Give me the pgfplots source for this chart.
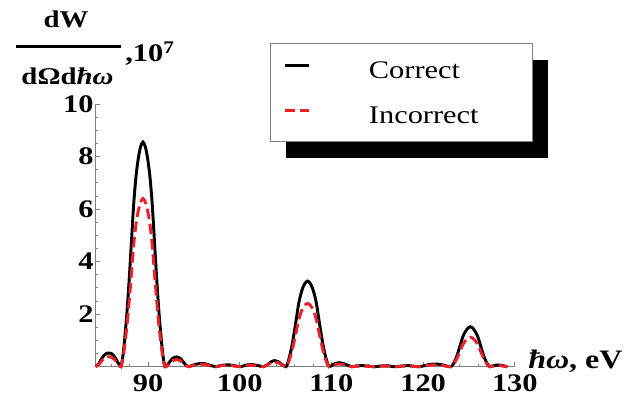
\documentclass[border=0pt]{standalone}
\usepackage{fontspec}
\setmainfont{Liberation Serif}[FakeStretch=1.2]
\usepackage{pgfplots}
\usepackage{pgfplotstable}
\pgfplotsset{compat=1.18}
\pgfdeclarelayer{background}
\pgfsetlayers{background,main}
\definecolor{curvered}{RGB}{236,32,40}
\definecolor{axgray}{RGB}{128,128,128}

\pgfplotstableread{
x c i
84.3 0 0
84.6 0.10 0.07
84.9 0.28 0.20
85.2 0.43 0.31
85.5 0.51 0.37
85.75 0.52 0.38
86.0 0.50 0.36
86.3 0.40 0.29
86.6 0.23 0.17
86.85 0.08 0.06
87.05 0 0
87.25 0.38 0.29
87.45 1.03 0.77
87.7 2.05 1.54
87.95 3.33 2.50
88.2 4.79 3.58
88.45 6.24 4.67
88.7 7.27 5.44
88.95 7.95 5.95
89.2 8.38 6.27
89.45 8.55 6.40
89.7 8.38 6.27
89.95 7.95 5.95
90.2 7.27 5.44
90.45 6.24 4.67
90.7 4.79 3.58
90.95 3.33 2.50
91.2 2.05 1.54
91.45 1.03 0.77
91.65 0.38 0.29
91.85 0 0
92.1 0.06 0.04
92.4 0.20 0.14
92.7 0.32 0.23
93.1 0.37 0.27
93.5 0.32 0.23
93.8 0.20 0.14
94.1 0.07 0.05
94.45 0 0
94.9 0.06 0.04
95.5 0.11 0.08
96.1 0.12 0.09
96.7 0.06 0.04
97.4 0 0
98.0 0.05 0.04
98.8 0.07 0.05
99.5 0.03 0.02
100.1 0 0
100.7 0.06 0.05
101.4 0.08 0.06
102.0 0.04 0.03
102.6 0 0
103.0 0.07 0.06
103.4 0.18 0.14
103.8 0.23 0.18
104.2 0.19 0.15
104.6 0.09 0.07
105.05 0 0
105.25 0.15 0.11
105.44 0.39 0.29
105.69 0.78 0.58
105.93 1.27 0.94
106.18 1.83 1.35
106.42 2.38 1.76
106.67 2.77 2.05
106.91 3.03 2.24
107.16 3.19 2.36
107.4 3.26 2.41
107.65 3.19 2.36
107.89 3.03 2.24
108.13 2.77 2.05
108.38 2.38 1.76
108.62 1.83 1.35
108.87 1.27 0.94
109.11 0.78 0.58
109.36 0.39 0.29
109.55 0.15 0.11
109.75 0 0
110.1 0.06 0.04
110.5 0.13 0.09
110.9 0.15 0.10
111.3 0.12 0.08
111.8 0.05 0.03
112.2 0 0
112.8 0.03 0.02
113.5 0.04 0.03
114.2 0.01 0.01
114.8 0 0
115.5 0.03 0.02
116.2 0.03 0.02
116.9 0 0
117.6 0.02 0.02
118.4 0.04 0.03
119.1 0.01 0.01
119.6 0 0
120.2 0.04 0.03
120.8 0.09 0.06
121.5 0.10 0.07
122.1 0.07 0.05
122.6 0.02 0.01
123.05 0 0
123.23 0.07 0.05
123.41 0.18 0.13
123.63 0.36 0.27
123.85 0.59 0.44
124.08 0.85 0.63
124.3 1.11 0.82
124.53 1.29 0.95
124.75 1.41 1.04
124.95 1.49 1.10
125.15 1.52 1.12
125.35 1.49 1.10
125.55 1.41 1.04
125.77 1.29 0.95
126.0 1.11 0.82
126.22 0.85 0.63
126.45 0.59 0.44
126.67 0.36 0.27
126.89 0.18 0.13
127.07 0.07 0.05
127.25 0 0
127.6 0.03 0.02
128.0 0.06 0.04
128.4 0.06 0.04
128.8 0.03 0.02
129.2 0 0
}\spectrum

\begin{document}
\begin{tikzpicture}
\useasboundingbox (0,0) rectangle (477pt,303pt);
\begin{axis}[
  at={(71.8pt,28pt)}, anchor=south west,
  scale only axis, width=314.3pt, height=197pt,
  xmin=84.3, xmax=130, ymin=0, ymax=10,
  axis lines=left, axis line style={-, axgray, line width=0.75pt},
  xtick={90,100,110,120,130}, ytick={2,4,6,8,10},
  minor xtick={86,88,92,94,96,98,102,104,106,108,112,114,116,118,122,124,126,128},
  minor ytick={0.5,1,1.5,2.5,3,3.5,4.5,5,5.5,6.5,7,7.5,8.5,9,9.5},
  tick align=inside, major tick length=3.5pt, minor tick length=1.8pt,
  tick style={axgray, line width=0.6pt},
  tick label style={font=\bfseries\fontsize{19}{19}\selectfont},
  /pgf/number format/assume math mode=true,
  yticklabel style={inner xsep=1.5pt},
  xticklabel style={yshift=-2.3pt},
  clip=false,
  legend cell align=left,
  legend image code/.code={\draw[#1] (0pt,3pt) -- (18pt,3pt);},
  legend style={
    name=legbox,
    at={(0.416,1.2322)}, anchor=north west,
    draw=axgray, fill=white,
    inner xsep=9.75pt, inner ysep=13.25pt,
    row sep=20.75pt,
    font=\fontsize{19}{19}\selectfont,
    nodes={inner sep=0pt, text height=13pt, text depth=0pt},
    /tikz/column 1/.style={column sep=44pt},
  },
]
\addplot[black, line width=2.2pt, smooth] table[x=x, y=c] {\spectrum};
\addlegendentry{\makebox[112.7pt][l]{Correct}}
\addplot[curvered, line width=2.2pt, smooth, dash pattern=on 8pt off 3.5pt] table[x=x, y=i] {\spectrum};
\addlegendentry{\makebox[112.7pt][l]{Incorrect}}
\end{axis}
\begin{pgfonlayer}{background}
\fill[black] ([shift={(12pt,-12.75pt)}]legbox.south west) rectangle ([shift={(12pt,-12.75pt)}]legbox.north east);
\end{pgfonlayer}
\node[anchor=base, font=\bfseries\fontsize{18}{18}\selectfont] at (49.5pt,282pt) {dW};
\draw[line width=2.3pt] (12pt,268pt) -- (90.75pt,268pt);
\node[anchor=base, font=\bfseries\fontsize{18}{18}\selectfont] at (50.6pt,239.25pt) {dΩd\textit{ħω}};
\node[anchor=base west, font=\bfseries\fontsize{19}{19}\selectfont, inner sep=0pt] at (93.75pt,256.5pt) {,10\textsuperscript{7}};
\node[anchor=base west, font=\bfseries\fontsize{20}{20}\selectfont, inner sep=0pt] at (396pt,27pt) {\textit{ħω}, eV};
\end{tikzpicture}
\end{document}
